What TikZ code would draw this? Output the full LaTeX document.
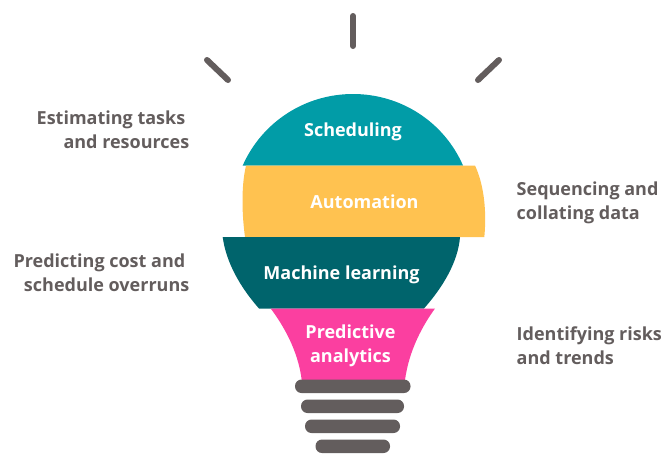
\documentclass[tikz,border=0pt]{standalone}
\usepackage{fontspec}
\setmainfont{Open Sans}
\definecolor{teal1}{HTML}{019CA7}
\definecolor{yellow1}{HTML}{FFC250}
\definecolor{teal2}{HTML}{00646C}
\definecolor{pink1}{HTML}{FB3FA0}
\definecolor{grey1}{HTML}{635D5D}
\tikzset{
  inbulb/.style={text=white,font=\bfseries\fontsize{18}{24}\selectfont,align=center,inner sep=0pt},
  sidel/.style={text=grey1,font=\bfseries\fontsize{18}{24}\selectfont,align=right,anchor=east,inner sep=0pt},
  sider/.style={text=grey1,font=\bfseries\fontsize{18}{24}\selectfont,align=left,anchor=west,inner sep=0pt},
  ray/.style={draw=grey1,line width=6pt,line cap=round},
  screw/.style={fill=grey1,rounded corners=6.5pt}
}
\begin{document}
\begin{tikzpicture}[x=1pt,y=-1pt]
\useasboundingbox (0,0) rectangle (664,453);
% rays
\draw[ray] (353,16) -- (353,46);
\draw[ray] (207,60) -- (228,80);
\draw[ray] (499,60) -- (478,80);
% teal cap
\fill[teal1] (242.7,165.5) .. controls (262,122) and (305,94) .. (353,94) .. controls (401,94) and (444,122) .. (463,165.5) -- cycle;
% yellow
\fill[yellow1] (246,165.5) .. controls (241,187) and (242,215) .. (245,237) -- (484.3,237) .. controls (486.5,215) and (485,187) .. (475,165.5) -- cycle;
% dark teal
\fill[teal2] (222.7,237) .. controls (226,262) and (240,287) .. (259,308.5) -- (424,308.5) .. controls (443,287) and (458,262) .. (460,237) -- cycle;
% pink
\fill[pink1] (270.7,308.5) .. controls (283,325) and (298,350) .. (301.7,380) -- (405,380) .. controls (409,350) and (423,325) .. (435,308.5) -- cycle;
% screw
\fill[screw] (295,379.5) rectangle (410.5,393);
\fill[screw] (301,399.5) rectangle (404,413);
\fill[screw] (305,419.5) rectangle (400,433);
\fill[screw] (315.5,439.5) rectangle (390,453);
% labels
\node[inbulb] (sched) at (353,131.5) {Scheduling};
\node[inbulb] (auto) at (364.5,202) {Automation};
\node[inbulb] (ml) at (341.5,274.5) {Machine learning};
\node[inbulb] (pred) at (350.5,346) {Predictive\\analytics};
\node[sidel] (est) at (189.5,130) {Estimating tasks\hspace*{4pt}\\and resources};
\node[sidel] (cost) at (189.5,273) {Predicting cost and\hspace*{4pt}\\schedule overruns};
\node[sider] (seq) at (516.5,202.5) {Sequencing and\\collating data};
\node[sider] (risk) at (516.5,345.5) {Identifying risks\\and trends};
\end{tikzpicture}
\end{document}
